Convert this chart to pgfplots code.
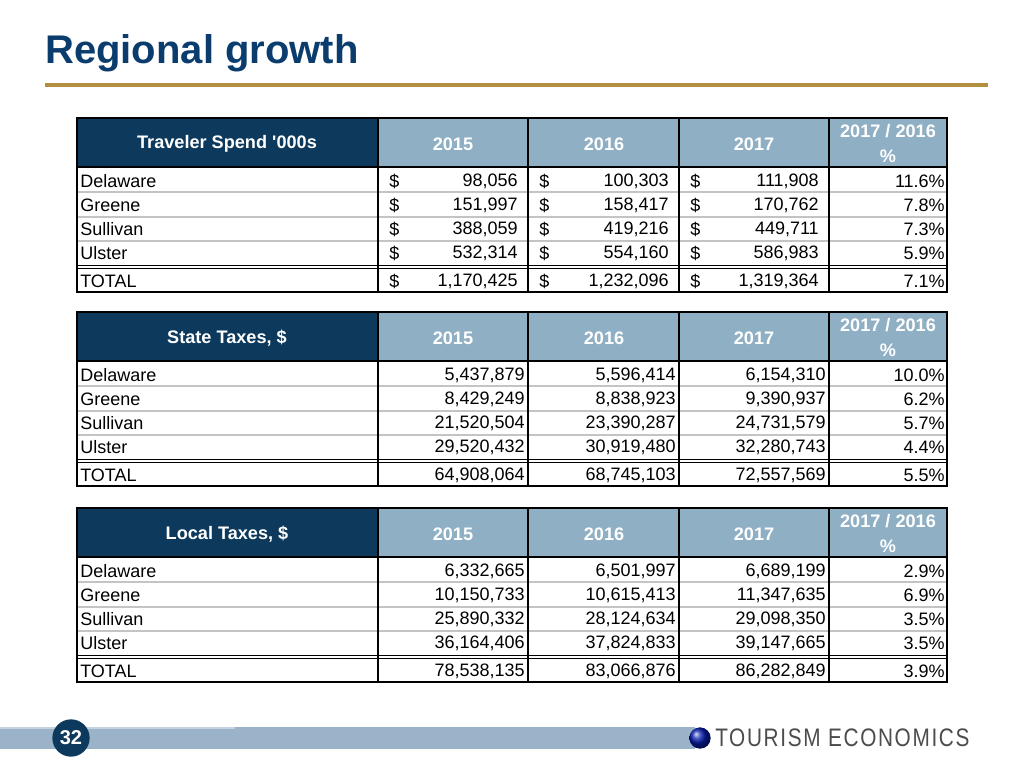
\documentclass[border=0pt]{standalone}
\usepackage{pgfplots}
\usepackage{pgfplotstable}
\pgfplotsset{compat=1.18}
\usepackage{fontspec}
\setmainfont{Liberation Sans}
\newfontfamily\logofont[LetterSpace=8]{Liberation Sans}
\definecolor{navy}{HTML}{0D3A5C}
\definecolor{hdrblue}{HTML}{8FAFC4}
\definecolor{titleblue}{HTML}{0A3C6E}
\definecolor{gold}{HTML}{B28F3E}
\definecolor{barblue}{HTML}{9BB3C8}
\definecolor{barlight}{HTML}{C3D2DE}
\definecolor{sepgray}{HTML}{C4C4C4}

\pgfplotstableread{
y name a b c p
181 Delaware 98,056 100,303 111,908 11.6
205 Greene 151,997 158,417 170,762 7.8
229 Sullivan 388,059 419,216 449,711 7.3
253 Ulster 532,314 554,160 586,983 5.9
281 TOTAL 1,170,425 1,232,096 1,319,364 7.1
}\spend
\pgfplotstableread{
y name a b c p
181 Delaware 5,437,879 5,596,414 6,154,310 10.0
205 Greene 8,429,249 8,838,923 9,390,937 6.2
229 Sullivan 21,520,504 23,390,287 24,731,579 5.7
253 Ulster 29,520,432 30,919,480 32,280,743 4.4
281 TOTAL 64,908,064 68,745,103 72,557,569 5.5
}\state
\pgfplotstableread{
y name a b c p
181 Delaware 6,332,665 6,501,997 6,689,199 2.9
205 Greene 10,150,733 10,615,413 11,347,635 6.9
229 Sullivan 25,890,332 28,124,634 29,098,350 3.5
253 Ulster 36,164,406 37,824,833 39,147,665 3.5
281 TOTAL 78,538,135 83,066,876 86,282,849 3.9
}\local

\pgfplotsset{
  cell/.style={only marks, mark=*, mark size=0pt, mark options={draw=none,fill=none},
    point meta=explicit symbolic, nodes near coords,
    every node near coord/.append style={anchor=#1, inner sep=0pt, text=black, font=\fontsize{13.5}{15}\selectfont}},
}

\newcommand\rowline[2]{\draw[sepgray, line width=0.9pt] (axis cs:77,#1+#2) -- (axis cs:947,#1+#2);}
\newcommand\colline[2]{\draw[black, line width=0.8pt] (axis cs:#1,118+#2) -- (axis cs:#1,292+#2);}
\newcommand\hdrfont{\bfseries\fontsize{13.6}{15}\selectfont}
% #1 table, #2 offset, #3 header, #4 number right-edge shift
\newcommand\tbl[4]{%
  \fill[navy] (axis cs:77,118+#2) rectangle (axis cs:378,167+#2);
  \fill[hdrblue] (axis cs:378,118+#2) rectangle (axis cs:947,167+#2);
  \rowline{192}{#2}\rowline{217}{#2}\rowline{241}{#2}
  \draw[black, line width=0.7pt] (axis cs:77,265+#2) -- (axis cs:947,265+#2);
  \draw[black, line width=0.7pt] (axis cs:77,268.5+#2) -- (axis cs:947,268.5+#2);
  \draw[black, line width=0.8pt] (axis cs:77,167+#2) -- (axis cs:947,167+#2);
  \colline{378}{#2}\colline{528}{#2}\colline{679}{#2}\colline{829}{#2}
  \draw[black, line width=1pt] (axis cs:77,118+#2) rectangle (axis cs:947,292+#2);
  \node[text=white, font=\hdrfont] at (axis cs:227,144+#2) {#3};
  \node[text=white, font=\hdrfont] at (axis cs:453,144+#2) {2015};
  \node[text=white, font=\hdrfont] at (axis cs:604,144+#2) {2016};
  \node[text=white, font=\hdrfont] at (axis cs:754,144+#2) {2017};
  \node[text=white, font=\hdrfont] at (axis cs:888,131+#2) {2017 / 2016};
  \node[text=white, font=\hdrfont] at (axis cs:888,156+#2) {\%};
  \addplot[cell=west] table[x expr=80, y expr=\thisrow{y}+#2, meta=name] {#1};
  \addplot[cell=east] table[x expr=518+#4, y expr=\thisrow{y}+#2, meta=a] {#1};
  \addplot[cell=east] table[x expr=669+#4, y expr=\thisrow{y}+#2, meta=b] {#1};
  \addplot[cell=east] table[x expr=819+#4, y expr=\thisrow{y}+#2, meta=c] {#1};
  \addplot[cell=east, nodes near coords={\pgfplotspointmeta\%}] table[x expr=945, y expr=\thisrow{y}+#2, meta=p] {#1};
}

\begin{document}
\begin{tikzpicture}
\begin{axis}[
  width=768pt, height=576pt, scale only axis,
  xmin=0, xmax=1024, ymin=0, ymax=768, y dir=reverse,
  hide axis, clip=false,
]
\path (axis cs:0,0) rectangle (axis cs:1024,768);
% title
\node[anchor=base west, text=titleblue, font=\bfseries\fontsize{30}{34}\selectfont, inner sep=0pt] at (axis cs:45,63) {Regional growth};
\draw[gold, line width=2.4pt] (axis cs:45,85) -- (axis cs:988,85);
% tables
\tbl{\spend}{0}{Traveler Spend \textquotesingle000s}{0}
\addplot[cell=west, nodes near coords={\$}] table[x expr=389, y expr=\thisrow{y}, meta=name] {\spend};
\addplot[cell=west, nodes near coords={\$}] table[x expr=539, y expr=\thisrow{y}, meta=name] {\spend};
\addplot[cell=west, nodes near coords={\$}] table[x expr=690, y expr=\thisrow{y}, meta=name] {\spend};
\tbl{\state}{194}{State Taxes, \$}{7}
\tbl{\local}{390}{Local Taxes, \$}{7}
% footer
\fill[barlight] (axis cs:0,727) rectangle (axis cs:235,749);
\fill[barblue] (axis cs:0,729) rectangle (axis cs:235,749);
\fill[barblue] (axis cs:235,727) rectangle (axis cs:695,749);
\fill[navy] (axis cs:71,738) circle[radius=14pt];
\node[text=white, font=\bfseries\fontsize{15}{17}\selectfont] at (axis cs:71,738) {32};
\shade[ball color=blue!50!navy] (axis cs:700,738) circle[radius=8pt];
\node[anchor=west, text=black!70, font=\logofont\fontsize{19}{21}\selectfont, inner sep=0pt] at (axis cs:715,738) {\scalebox{0.82}[1]{TOURISM ECONOMICS}};
\end{axis}
\end{tikzpicture}
\end{document}
